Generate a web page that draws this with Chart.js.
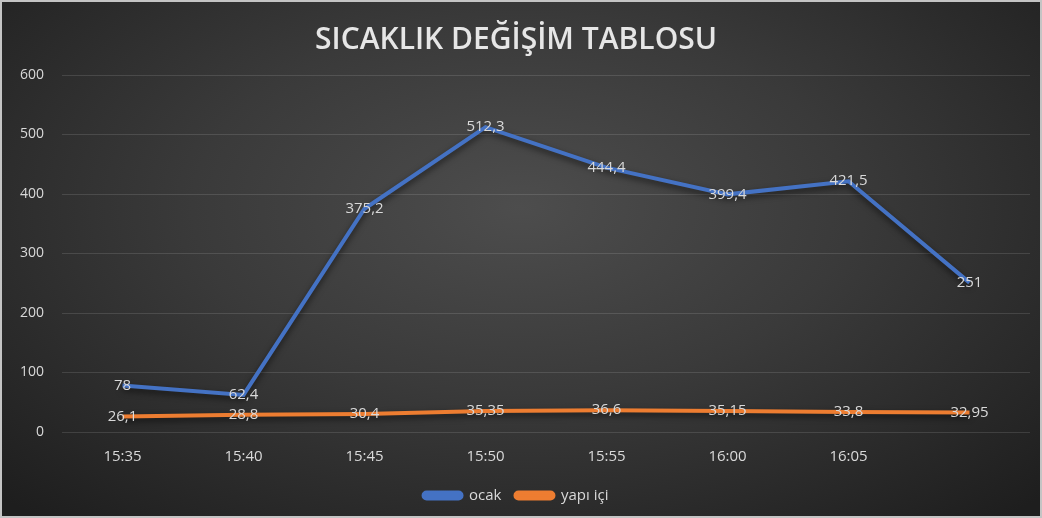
<!DOCTYPE html>
<html>
<head>
<meta charset="utf-8">
<script src="https://cdn.jsdelivr.net/npm/chart.js"></script>
<style>
    html, body { margin: 0; padding: 0; }
    body {
        width: 1042px; height: 518px; box-sizing: border-box;
        border: 2px solid #c4c4c4;
        background: radial-gradient(ellipse 70% 80% at 50% 40%, #4d4d4d 0%, #3a3a3a 45%, #1e1e1e 100%);
        overflow: hidden;
    }
    #wrap { position: relative; width: 1038px; height: 514px; }
</style>
</head>
<body>
<div id="wrap"><canvas id="chart"></canvas></div>
<script>
let times = ["15:35", "15:40", "15:45", "15:50", "15:55", "16:00", "16:05", ""]
let ocak = [78, 62.4, 375.2, 512.3, 444.4, 399.4, 421.5, 251]
let yapiIci = [26.1, 28.8, 30.4, 35.35, 36.6, 35.15, 33.8, 32.95]
let yTicks = [0, 100, 200, 300, 400, 500, 600]

const textColor = "#d9d9d9"

// values written on the points, like the excel labels
const pointLabels = {
    id: "pointLabels",
    afterDatasetsDraw(chart) {
        let ctx = chart.ctx
        ctx.save()
        ctx.font = "15px 'Open Sans'"
        ctx.fillStyle = textColor
        ctx.textAlign = "center"
        ctx.textBaseline = "middle"
        chart.data.datasets.forEach((ds, i) => {
            chart.getDatasetMeta(i).data.forEach((pt, j) => {
                ctx.fillText(String(ds.data[j]).replace(".", ","), pt.x, pt.y)
            })
        })
        ctx.restore()
    }
}

// soft shadow under the lines
const lineShadow = {
    id: "lineShadow",
    beforeDatasetsDraw(chart) {
        chart.ctx.save()
        chart.ctx.shadowColor = "rgba(0,0,0,0.6)"
        chart.ctx.shadowBlur = 6
        chart.ctx.shadowOffsetY = 3
    },
    afterDatasetsDraw(chart) {
        chart.ctx.restore()
    }
}

new Chart(document.getElementById("chart"), {
    type: "line",
    data: {
        labels: times,
        datasets: [
            {
                label: "ocak",
                data: ocak,
                borderColor: "#4472C4",
                backgroundColor: "#4472C4",
                borderWidth: 4,
                pointRadius: 0,
                tension: 0
            },
            {
                label: "yapı içi",
                data: yapiIci,
                borderColor: "#ED7D31",
                backgroundColor: "#ED7D31",
                borderWidth: 4,
                pointRadius: 0,
                tension: 0
            }
        ]
    },
    options: {
        responsive: true,
        maintainAspectRatio: false,
        animation: false,
        layout: { padding: { left: 0, right: 10, top: 20, bottom: 3 } },
        plugins: {
            title: {
                display: true,
                text: "SICAKLIK DEĞİŞİM TABLOSU",
                color: "#e6e6e6",
                font: { family: "'Open Sans'", size: 30, weight: "600" },
                padding: { top: 0, bottom: 17 }
            },
            legend: {
                position: "bottom",
                labels: {
                    color: textColor,
                    font: { family: "'Open Sans'", size: 15 },
                    boxWidth: 38,
                    boxHeight: 6,
                    useBorderRadius: true,
                    borderRadius: 3,
                    padding: 14
                }
            },
            tooltip: { enabled: false }
        },
        scales: {
            x: {
                offset: true,
                grid: { display: false },
                border: { display: false },
                ticks: { color: textColor, font: { family: "'Open Sans'", size: 15 }, padding: 8 }
            },
            y: {
                min: 0,
                max: 600,
                afterBuildTicks: axis => { axis.ticks = yTicks.map(v => ({ value: v })) },
                grid: { color: "rgba(255,255,255,0.12)", lineWidth: 1, drawTicks: false },
                border: { display: false },
                ticks: { color: textColor, font: { family: "'Open Sans'", size: 14 }, padding: 18 }
            }
        }
    },
    plugins: [lineShadow, pointLabels]
})
</script>
</body>
</html>
